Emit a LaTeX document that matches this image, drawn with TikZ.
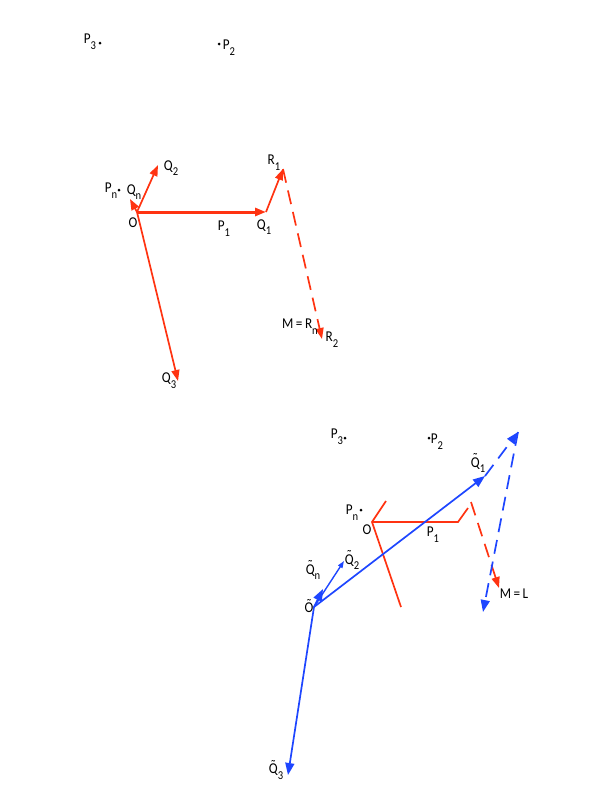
\documentclass[tikz,border=0pt]{standalone}
\usepackage{fontspec}
\setmainfont{Carlito}[FakeStretch=0.88]
\usetikzlibrary{arrows.meta}
\definecolor{vred}{RGB}{255,51,17}
\definecolor{vblue}{RGB}{30,70,255}
\newcommand\sbx[1]{\raisebox{-0.38em}{\fontsize{12}{13}\selectfont #1}}
\newcommand\tld[1]{{\ooalign{#1\cr\hidewidth\raisebox{0.22em}{\char"02DC}\hidewidth\cr}}}
\begin{document}
\begin{tikzpicture}[x=1pt,y=-1pt,
  lbl/.style={font=\fontsize{15}{17}\selectfont, inner sep=0pt},
  pdot/.style={fill=black},
  redv/.style={vred, line width=1.7pt, -{Triangle[length=11pt,width=8pt]}},
  bluev/.style={vblue, line width=1.7pt, -{Triangle[length=12pt,width=9pt]}},
  redl/.style={vred, line width=1.7pt},
  dsh/.style={dash pattern=on 14pt off 8pt}]
\useasboundingbox (0,0) rectangle (598,798);

% ---------- top figure ----------
\coordinate (O) at (137,212);
\coordinate (Q1) at (266,212);
\coordinate (Q2) at (158,165);
\coordinate (Qn) at (130,199);
\coordinate (Q3) at (178,381);
\coordinate (R1) at (283,169);
\coordinate (R2) at (322,339);

\draw[redv, line width=3pt] (O) -- (Q1);
\draw[redv] (O) -- (Q2);
\draw[redv] (O) -- (Qn);
\draw[redv] (O) -- (Q3);
\draw[redv] (Q1) -- (R1);
\draw[redv, dsh] (R1) -- (R2);

\fill[pdot] (100,43) circle (1.5);
\fill[pdot] (219,44) circle (1.5);
\fill[pdot] (119,190) circle (1.5);
\node[lbl] (lP3) at (90,42) {P\sbx{3}};
\node[lbl] (lP2) at (229,48) {P\sbx{2}};
\node[lbl] (lPn) at (111,191) {P\sbx{n}};
\node[lbl] (lQn) at (134,192) {Q\sbx{n}};
\node[lbl] (lQ2) at (171,168) {Q\sbx{2}};
\node[lbl] (lO) at (133,223) {O};
\node[lbl] (lP1) at (224,229) {P\sbx{1}};
\node[lbl] (lQ1) at (264,227) {Q\sbx{1}};
\node[lbl] (lR1) at (274,163) {R\sbx{1}};
\node[lbl] (lM) at (300,327) {M\,=\,R\sbx{n}};
\node[lbl] (lR2) at (332,340) {R\sbx{2}};
\node[lbl] (lQ3) at (169,381) {Q\sbx{3}};

% ---------- bottom figure ----------
\coordinate (Ob) at (372,522);
\coordinate (Pb) at (458,522);
\coordinate (Rb) at (468,508);
\coordinate (Ub) at (386,501);
\coordinate (Db) at (401,607);
\coordinate (Ds) at (471,502);
\coordinate (De) at (499,588);

\draw[redl] (Ub) -- (Ob) -- (Db);
\draw[redl] (Ob) -- (Pb) -- (Rb);
\draw[redv, dsh] (Ds) -- (De);

\coordinate (Ot) at (314,607);
\coordinate (Qt1) at (485,476);
\coordinate (Qt2) at (344,561);
\coordinate (Qtn) at (323,589);
\coordinate (Qt3) at (288,775);
\coordinate (L1) at (518,432);
\coordinate (ML) at (483,612);

\draw[bluev] (Ot) -- (Qt1);
\draw[bluev, line width=1.4pt, -{Triangle[length=7pt,width=5pt]}] (Ot) -- (Qt2);
\draw[bluev] (Ot) -- (Qtn);
\draw[bluev] (Ot) -- (Qt3);
\draw[bluev, dsh] (Qt1) -- (L1);
\draw[bluev, dsh] (L1) -- (ML);

\fill[pdot] (345,438) circle (1.5);
\fill[pdot] (429,438) circle (1.5);
\fill[pdot] (361,510) circle (1.5);
\node[lbl] (bP3) at (337,437) {P\sbx{3}};
\node[lbl] (bP2) at (437,442) {P\sbx{2}};
\node[lbl] (bQ1) at (478,465) {\tld{Q}\sbx{1}};
\node[lbl] (bPn) at (352,513) {P\sbx{n}};
\node[lbl] (bO) at (367,530) {O};
\node[lbl] (bP1) at (433,535) {P\sbx{1}};
\node[lbl] (bML) at (514,594) {M\,=\,L};
\node[lbl] (bQ2) at (352,562) {\tld{Q}\sbx{2}};
\node[lbl] (bQn) at (313,572) {\tld{Q}\sbx{n}};
\node[lbl] (bO2) at (309,608) {\tld{O}};
\node[lbl] (bQ3) at (276,772) {\tld{Q}\sbx{3}};
\end{tikzpicture}
\end{document}
